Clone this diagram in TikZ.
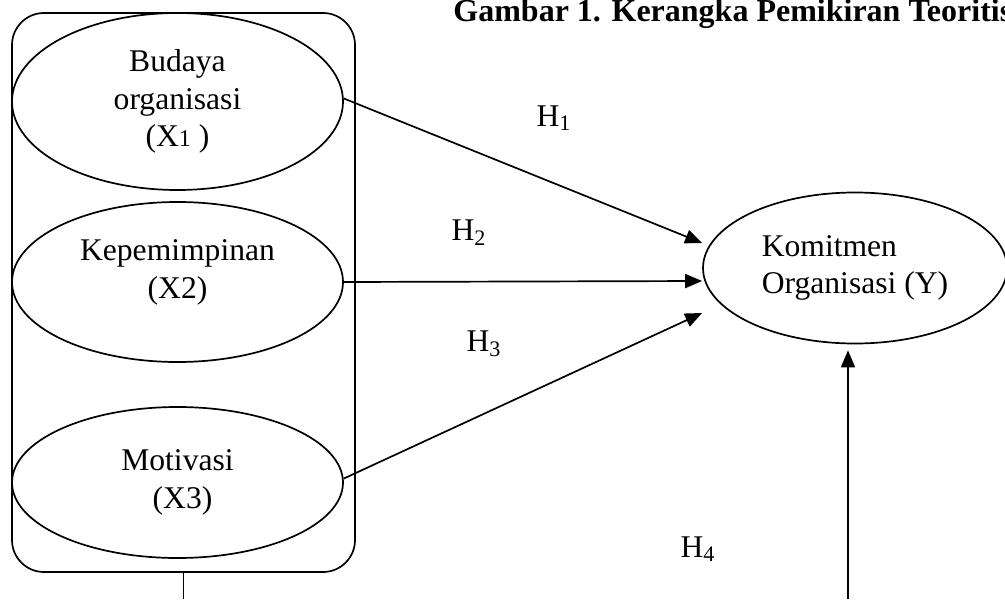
\documentclass[tikz,border=0pt]{standalone}
\usepackage{fontspec}
\setmainfont{Liberation Serif}
\usetikzlibrary{positioning,arrows.meta,shapes.geometric}
\tikzset{
  groupbox/.style = {draw, line width=0.85pt, rounded corners=16pt, inner sep=0pt},
  varbox/.style   = {ellipse, draw, line width=0.85pt, inner sep=0pt, align=center,
                     font=\fontsize{15.8}{18.8}\selectfont},
  link/.style     = {-{Triangle[length=8.5pt,width=7pt]}, line width=0.85pt},
  plain/.style    = {line width=0.85pt},
  hyp/.style      = {font=\fontsize{15.8}{18.8}\selectfont, inner sep=1pt},
  caption/.style  = {font=\fontsize{16}{18}\selectfont\bfseries, anchor=base west,
                     inner sep=0pt},
}

\begin{document}
\begin{tikzpicture}[x=0.5pt, y=-0.5pt]
  \useasboundingbox (0,0) rectangle (1005,599);

  \node[caption] (title) at (453,22) {Gambar 1. Kerangka Pemikiran Teoritis};

  \node[groupbox, minimum width=171.5pt, minimum height=279.5pt] (frame) at (183.5,292.5) {};

  \node[varbox, minimum width=165.5pt, minimum height=88.5pt] (budaya) at (177.5,101.5)
    {Budaya\\organisasi\\(X{\fontsize{12}{12}\selectfont 1} )};
  \node[varbox, minimum width=165.5pt, minimum height=80pt, text depth=13pt] (pimpin) at (177.5,282)
    {Kepemimpinan\\(X2)};
  \node[varbox, minimum width=165.5pt, minimum height=75.5pt] (motiv) at (177.5,482.5)
    {Motivasi\\\hspace*{5pt}(X3)};
  \node[varbox, align=left, minimum width=152pt, minimum height=75.5pt] (komit) at (855,268)
    {Komitmen\\Organisasi (Y)};

  \draw[link] ([yshift=1.5pt]budaya.east) -- ([yshift=12.5pt]komit.west);
  \draw[link] (pimpin.east) -- ([yshift=-6.5pt]komit.west);
  \draw[link] ([yshift=2pt]motiv.east) -- ([yshift=-22.5pt]komit.west);

  \coordinate (lowL) at (frame.south |- 0,599);
  \coordinate (lowR) at (848,599);
  \draw[plain] (frame.south) -- (lowL);
  \draw[link, shorten >=3pt] (lowR) -- (lowR |- komit.south);

  \node[hyp] (h1) at (554,118) {H\textsubscript{1}};
  \node[hyp] (h2) at (469,233) {H\textsubscript{2}};
  \node[hyp] (h3) at (484,344) {H\textsubscript{3}};
  \node[hyp] (h4) at (698,549) {H\textsubscript{4}};
\end{tikzpicture}
\end{document}
